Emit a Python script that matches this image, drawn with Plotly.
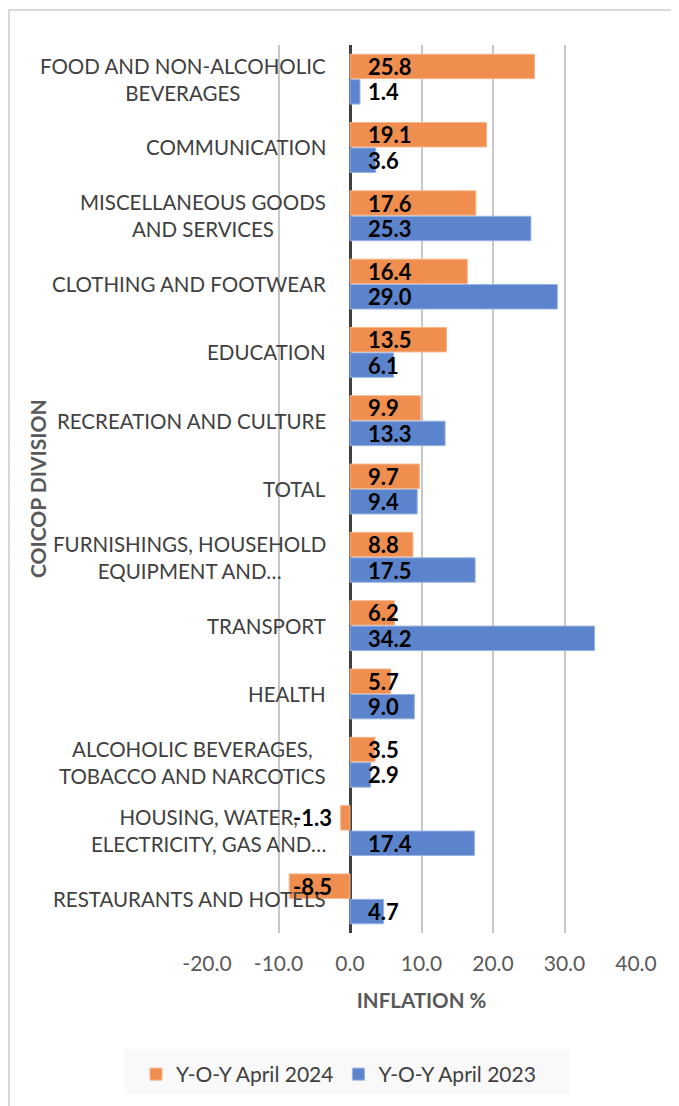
import plotly.graph_objects as go

# COICOP divisions, top to bottom as shown
categories = [
    "FOOD AND NON-ALCOHOLIC<br>BEVERAGES",
    "COMMUNICATION",
    "MISCELLANEOUS GOODS<br>AND SERVICES",
    "CLOTHING AND FOOTWEAR",
    "EDUCATION",
    "RECREATION AND CULTURE",
    "TOTAL",
    "FURNISHINGS, HOUSEHOLD<br>EQUIPMENT AND…",
    "TRANSPORT",
    "HEALTH",
    "ALCOHOLIC BEVERAGES,<br>TOBACCO AND NARCOTICS",
    "HOUSING, WATER,<br>ELECTRICITY, GAS AND…",
    "RESTAURANTS AND HOTELS",
]
yoy_2024 = [25.8, 19.1, 17.6, 16.4, 13.5, 9.9, 9.7, 8.8, 6.2, 5.7, 3.5, -1.3, -8.5]
yoy_2023 = [1.4, 3.6, 25.3, 29.0, 6.1, 13.3, 9.4, 17.5, 34.2, 9.0, 2.9, 17.4, 4.7]
x_ticks = [-20, -10, 0, 10, 20, 30, 40]

FONT = "Lato"
ORANGE = "#EF8E4E"
BLUE = "#5B84CD"

fig = go.Figure()
fig.add_trace(go.Bar(
    y=categories, x=yoy_2024, orientation="h", name="Y-O-Y April 2024",
    marker=dict(color=ORANGE, line=dict(color="#F6B48A", width=1)),
))
fig.add_trace(go.Bar(
    y=categories, x=yoy_2023, orientation="h", name="Y-O-Y April 2023",
    marker=dict(color=BLUE, line=dict(color="#98B2E2", width=1)),
))

annotations = []
# category labels, centred lines, sitting left of the zero line
for c in categories:
    annotations.append(dict(
        x=0, y=c, xref="x", yref="y", text=c, showarrow=False,
        xanchor="right", align="center", xshift=-22,
        font=dict(family=FONT, size=20.5, color="#404040"),
    ))
# data labels at the bar base
for vals, shift in ((yoy_2024, 12.75), (yoy_2023, -12.75)):
    for c, v in zip(categories, vals):
        annotations.append(dict(
            x=0, y=c, xref="x", yref="y", text=f"{v:.1f}", showarrow=False,
            xanchor="left" if v >= 0 else "right",
            xshift=16 if v >= 0 else -16, yshift=shift,
            font=dict(family=FONT, size=22, color="black", weight="bold"),
        ))
annotations.append(dict(
    x=-0.396, y=0.5, xref="paper", yref="paper", text="COICOP DIVISION",
    showarrow=False, textangle=-90, xanchor="center", yanchor="middle",
    font=dict(family=FONT, size=21, color="#595959", weight="bold"),
))

fig.update_layout(
    width=671, height=1098,
    margin=dict(l=199, r=43, t=37, b=172),
    paper_bgcolor="white", plot_bgcolor="white",
    barmode="group", bargap=0.255, bargroupgap=0.04,
    font=dict(family=FONT, color="#595959"),
    annotations=annotations,
    showlegend=True,
    legend=dict(
        orientation="h", x=-0.1655, xanchor="left", y=-0.158, yanchor="middle",
        bgcolor="rgba(0,0,0,0)", font=dict(family=FONT, size=21, color="#404040"),
        traceorder="normal", itemclick=False,
    ),
    shapes=[
        # outer chart border (cropped on right and bottom)
        dict(type="rect", xref="paper", yref="paper", x0=-0.4615, x1=1.3, y0=-0.3, y1=1.0394,
             line=dict(color="#D9D9D9", width=2), fillcolor="rgba(0,0,0,0)", layer="below"),
        # legend background box
        dict(type="rect", xref="paper", yref="paper", x0=-0.1935, x1=0.846, y0=-0.1811, y1=-0.1305,
             line=dict(width=0), fillcolor="#F9F9F9", layer="below"),
    ],
)

fig.update_xaxes(
    range=[-20, 40], tickvals=x_ticks, ticktext=[f"{t:.1f}" for t in x_ticks],
    showgrid=True, gridcolor="#C8C8C8", gridwidth=1.5,
    zeroline=True, zerolinecolor="#404040", zerolinewidth=3,
    showline=False, ticks="", ticklabelstandoff=16,
    tickfont=dict(family=FONT, size=21, color="#595959"),
    title=dict(text="INFLATION %", standoff=19,
               font=dict(family=FONT, size=20.5, color="#595959", weight="bold")),
)
fig.update_yaxes(
    categoryorder="array", categoryarray=categories, autorange="reversed",
    showticklabels=False, showgrid=False, zeroline=False, ticks="",
)

fig.write_html("out.html")
